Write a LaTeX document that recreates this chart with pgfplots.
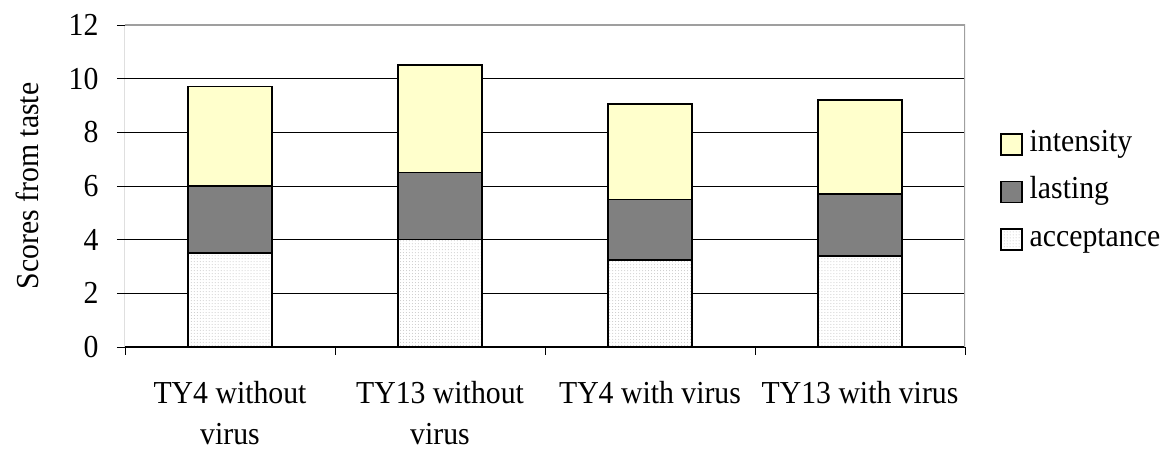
\documentclass[border=0pt]{standalone}
\usepackage{fontspec}
\setmainfont{Liberation Serif}[FakeStretch=0.93]
\usepackage{pgfplots}
\pgfplotsset{compat=1.18}
\usetikzlibrary{patterns}
\newcommand\cf{\fontsize{32bp}{41bp}\selectfont}
\definecolor{intens}{RGB}{255,255,204}
\definecolor{lastc}{RGB}{128,128,128}
\begin{document}
\begin{tikzpicture}[x=1bp,y=1bp]
\path[use as bounding box] (-125,-103) rectangle (1048,347);
\begin{axis}[
  at={(0,0)}, anchor=south west,
  scale only axis, width=840bp, height=322bp,
  ymin=0, ymax=12, ytick={0,2,...,12},
  xmin=-0.5, xmax=3.5,
  ybar stacked, bar width=84bp,
  xtick={-0.5,0.5,1.5,2.5,3.5},
  x tick label as interval=true,
  xticklabels={{TY4 without\\virus},{TY13 without\\virus},{TY4 with virus},{TY13 with virus}},
  xtick pos=bottom, ytick pos=left,
  tick align=outside, major tick length=8bp,
  tick style={black, line width=0.8bp},
  ymajorgrids, grid style={black, line width=0.8bp},
  axis line style={draw=none},
  /pgf/number format/assume math mode=true,
  tick label style={font=\cf},
  xticklabel style={align=center, yshift=-23bp},
  yticklabel style={xshift=-15bp},
  ylabel={Scores from taste},
  ylabel style={font=\cf, at={(axis description cs:-0.1167,0.5)}, anchor=center},
  legend style={draw=none, fill=none, font=\cf, at={(axis description cs:1,0.4814)}, anchor=west, xshift=32bp,
    row sep=17.5bp, column sep=5bp, nodes={inner sep=2bp, text height=20bp, text depth=6bp}},
  legend cell align=left,
  reverse legend,
  legend image code/.code={\draw[#1] (0bp,-10.5bp) rectangle (21bp,10.5bp);},
]
\addplot[fill=white, draw=black, line width=1.5bp, postaction={pattern=dots, pattern color=gray!45}]
  coordinates {(0,3.5) (1,4.0) (2,3.25) (3,3.4)};
\addlegendentry{acceptance}
\addplot[fill=lastc, draw=black, line width=1.5bp]
  coordinates {(0,2.5) (1,2.5) (2,2.25) (3,2.3)};
\addlegendentry{lasting}
\addplot[fill=intens, draw=black, line width=1.5bp]
  coordinates {(0,3.7) (1,4.0) (2,3.55) (3,3.5)};
\addlegendentry{intensity}
\draw[gray!75, line width=1.2bp] (rel axis cs:0,1) -- (rel axis cs:1,1) -- (rel axis cs:1,0);
\draw[black, line width=1bp] (rel axis cs:0,1) -- (rel axis cs:0,0) -- (rel axis cs:1,0);
\end{axis}
\end{tikzpicture}
\end{document}
